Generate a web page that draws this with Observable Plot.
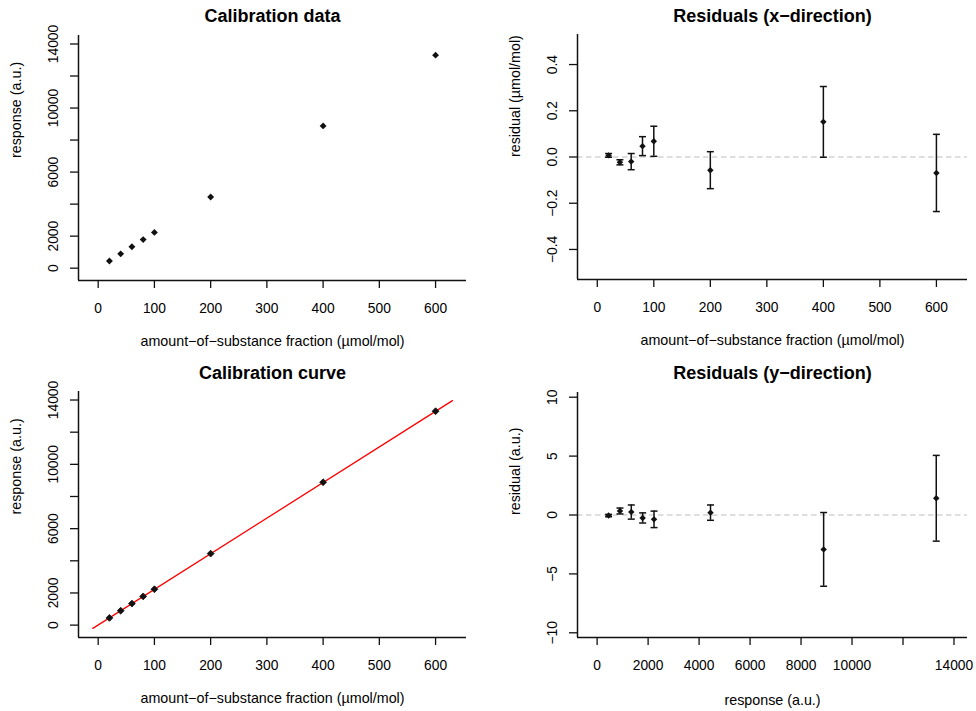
<!DOCTYPE html>
<html><head><meta charset="utf-8">
<script src="https://cdn.jsdelivr.net/npm/d3@7"></script>
<script src="https://cdn.jsdelivr.net/npm/@observablehq/plot@0.6"></script>
<style>
body{margin:0;background:#fff;}
#grid{display:grid;grid-template-columns:488px 488px;grid-template-rows:355px 356px;width:976px;height:711px;}
#grid svg{display:block}
</style></head><body><div id="grid"></div>
<script>
// ---- data ----
const conc = [20, 40, 60, 80, 100, 200, 400, 600];
const response = [450, 896, 1340, 1786, 2232, 4448, 8886, 13304];
const residX = [0.007, -0.023, -0.020, 0.047, 0.068, -0.057, 0.152, -0.069];
const uncX = [0.008, 0.011, 0.035, 0.041, 0.065, 0.080, 0.153, 0.167];
const residY = [-0.05, 0.34, 0.25, -0.25, -0.37, 0.20, -2.92, 1.42];
const uncY = [0.10, 0.25, 0.60, 0.43, 0.70, 0.65, 3.13, 3.64];
const fitX = [-9.5, 630];
const fitY = [-205, 13965];

const titles = ["Calibration data", "Residuals (x\u2212direction)", "Calibration curve", "Residuals (y\u2212direction)"];
const xTitleConc = "amount\u2212of\u2212substance fraction (\u00b5mol/mol)";
const titleResp = "response (a.u.)";
const yTitleResX = "residual (\u00b5mol/mol)";
const yTitleResY = "residual (a.u.)";

const concTicks = [0, 100, 200, 300, 400, 500, 600];
const concTickLabels = ["0", "100", "200", "300", "400", "500", "600"];
const respTicks = [0, 2000, 4000, 6000, 8000, 10000, 12000, 14000];
const respYTickLabels = ["0", "2000", "", "6000", "", "10000", "", "14000"];
const respXTickLabels = ["0", "2000", "4000", "6000", "8000", "10000", "", "14000"];
const resXTicks = [-0.4, -0.2, 0, 0.2, 0.4];
const resXTickLabels = ["\u22120.4", "\u22120.2", "0.0", "0.2", "0.4"];
const resYTicks = [-10, -5, 0, 5, 10];
const resYTickLabels = ["\u221210", "\u22125", "0", "5", "10"];

const concDomain = [-35, 655];
const respDomain = [-770, 14530];
const resXDomain = [-0.53, 0.53];
const resYDomain = [-10.4, 10.4];

// ---- helpers ----
const calib = conc.map((c, i) => ({conc: c, response: response[i], residX: residX[i], uncX: uncX[i], residY: residY[i], uncY: uncY[i]}));
const fit = fitX.map((x, i) => ({x, y: fitY[i]}));
const FONT = '"Liberation Sans", Arial, Helvetica, sans-serif';
const INK = "#111";
const capSymbol = {draw(ctx, size) { const r = Math.sqrt(size / Math.PI); ctx.moveTo(-r, 0); ctx.lineTo(r, 0); }};
const fmt = (ticks, labels) => { const m = new Map(ticks.map((t, i) => [t, labels[i]])); return d => m.get(d) ?? ""; };

function errorMarks(xKey, yKey, uKey) {
  const lo = d => d[yKey] - d[uKey], hi = d => d[yKey] + d[uKey];
  return [
    Plot.ruleY([0], {stroke: "#bdbdbd", strokeWidth: 1.2, strokeDasharray: "5.5,3.5"}),
    Plot.ruleX(calib, {x: xKey, y1: lo, y2: hi, stroke: INK, strokeWidth: 1.5}),
    Plot.dot(calib, {x: xKey, y: lo, symbol: capSymbol, r: 3.5, stroke: INK, fill: "none", strokeWidth: 1.5}),
    Plot.dot(calib, {x: xKey, y: hi, symbol: capSymbol, r: 3.5, stroke: INK, fill: "none", strokeWidth: 1.5}),
    Plot.dot(calib, {x: xKey, y: yKey, symbol: "diamond2", r: 2.9, fill: INK, stroke: "none"})
  ];
}

function panel(o) {
  return Plot.plot({
    width: 488, height: o.height,
    marginLeft: o.mL, marginRight: o.mR, marginTop: o.mT, marginBottom: o.mB,
    style: {fontFamily: FONT, fontSize: "13.8px", color: "black", background: "white", overflow: "visible"},
    x: {domain: o.xDomain},
    y: {domain: o.yDomain},
    marks: [
      ...o.marks,
      Plot.ruleX([o.xDomain[0]], {stroke: INK, strokeWidth: 1.5}),
      Plot.ruleY([o.yDomain[0]], {stroke: INK, strokeWidth: 1.5}),
      Plot.axisX({ticks: o.xTicks, tickFormat: fmt(o.xTicks, o.xLabels), tickSize: 8, tickPadding: 15, label: null, stroke: INK, strokeWidth: 1.3, fontSize: 13.8}),
      Plot.axisY({ticks: o.yTicks, tickFormat: fmt(o.yTicks, o.yLabels), tickRotate: -90, tickSize: 8, tickPadding: 13, label: null, stroke: INK, strokeWidth: 1.3, fontSize: 13.8}),
      Plot.text([o.title], {text: d => d, frameAnchor: "top", dy: o.titleDy, fontWeight: "bold", fontSize: 18, lineAnchor: "middle", fill: "black"}),
      Plot.text([o.xTitle], {text: d => d, frameAnchor: "bottom", dy: o.xTitleDy, fontSize: 14.3, lineAnchor: "middle", fill: "black"}),
      Plot.text([o.yTitle], {text: d => d, frameAnchor: "left", dx: -62, rotate: -90, fontSize: 14.3, lineAnchor: "middle", fill: "black"})
    ]
  });
}

const grid = document.getElementById("grid");

grid.append(panel({
  height: 355, mL: 78, mR: 22, mT: 35, mB: 75,
  xDomain: concDomain, yDomain: respDomain,
  xTicks: concTicks, xLabels: concTickLabels, yTicks: respTicks, yLabels: respYTickLabels,
  title: titles[0], titleDy: -19, xTitle: xTitleConc, xTitleDy: 60.5, yTitle: titleResp,
  marks: [Plot.dot(calib, {x: "conc", y: "response", symbol: "diamond2", r: 3.1, fill: INK, stroke: "none"})]
}));

grid.append(panel({
  height: 355, mL: 89, mR: 9, mT: 34, mB: 76,
  xDomain: concDomain, yDomain: resXDomain,
  xTicks: concTicks, xLabels: concTickLabels, yTicks: resXTicks, yLabels: resXTickLabels,
  title: titles[1], titleDy: -18, xTitle: xTitleConc, xTitleDy: 60.5, yTitle: yTitleResX,
  marks: errorMarks("conc", "residX", "uncX")
}));

grid.append(panel({
  height: 356, mL: 78, mR: 22, mT: 36, mB: 74,
  xDomain: concDomain, yDomain: respDomain,
  xTicks: concTicks, xLabels: concTickLabels, yTicks: respTicks, yLabels: respYTickLabels,
  title: titles[2], titleDy: -18.7, xTitle: xTitleConc, xTitleDy: 60.5, yTitle: titleResp,
  marks: [
    Plot.line(fit, {x: "x", y: "y", stroke: "#ff0000", strokeWidth: 1.3}),
    Plot.dot(calib, {x: "conc", y: "response", symbol: "diamond2", r: 3.1, fill: INK, stroke: INK, strokeWidth: 0.8})
  ]
}));

grid.append(panel({
  height: 356, mL: 89, mR: 9, mT: 37, mB: 74,
  xDomain: respDomain, yDomain: resYDomain,
  xTicks: respTicks, xLabels: respXTickLabels, yTicks: resYTicks, yLabels: resYTickLabels,
  title: titles[3], titleDy: -19.7, xTitle: titleResp, xTitleDy: 63, yTitle: yTitleResY,
  marks: errorMarks("response", "residY", "uncY")
}));
</script>
</body></html>
